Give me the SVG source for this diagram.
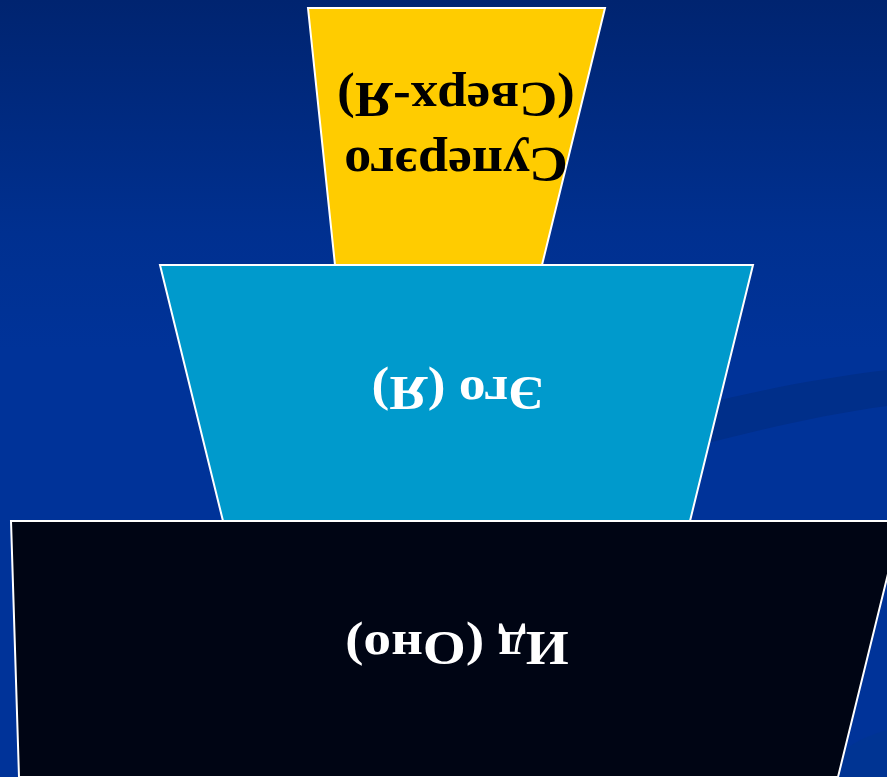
<svg xmlns="http://www.w3.org/2000/svg" width="887" height="777" viewBox="0 0 887 777">
<defs>
<linearGradient id="bg" x1="0" y1="0" x2="0" y2="1">
<stop offset="0" stop-color="#002470"/>
<stop offset="0.3" stop-color="#003090"/>
<stop offset="0.45" stop-color="#003399"/>
<stop offset="1" stop-color="#003399"/>
</linearGradient>
</defs>
<style>
.shape{stroke:#ffffff;stroke-width:2;stroke-linejoin:miter}
.lbl{font-family:"Liberation Serif","Times New Roman",serif;font-weight:bold;text-anchor:middle}
.y{font-size:51px;fill:#000000}
.w{font-size:48px;fill:#ffffff}
</style>
<rect x="0" y="0" width="887" height="777" fill="url(#bg)"/>
<path d="M887,370 C820,378 760,390 700,405 L700,445 C760,430 820,415 887,406 Z" fill="#002F8A"/>
<path d="M887,730 C860,738 840,748 820,777 L887,777 Z" fill="#00368F" opacity="0.6"/>
<g id="superego">
<polygon class="shape" points="308,8 605,8 542,265 335,265" fill="#FFCC00"/>
<text class="lbl y" transform="translate(456,148) rotate(180) scale(1.06,1)">Суперэго</text>
<text class="lbl y" transform="translate(456,83) rotate(180) scale(1.04,1)">(Сверх-Я)</text>
</g>
<g id="ego">
<polygon class="shape" points="160,265 753,265 690,521 223,521" fill="#009ACC"/>
<text class="lbl w" transform="translate(458,377) rotate(180) scale(1.11,1)">Эго (Я)</text>
</g>
<g id="id">
<polygon class="shape" points="11,521 901,521 838,777 19,777" fill="#000514"/>
<text class="lbl w" transform="translate(457,632) rotate(180) scale(1.15,1)">Ид (Оно)</text>
</g>
<g id="connectors"/>
</svg>
